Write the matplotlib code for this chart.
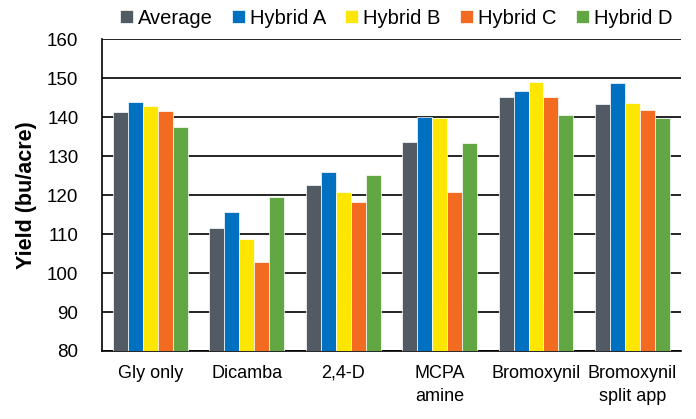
import numpy as np
import matplotlib
matplotlib.use("Agg")
import matplotlib.pyplot as plt

plt.rcParams['font.family'] = ['Liberation Sans', 'DejaVu Sans']

categories = ["Gly only", "Dicamba", "2,4-D", "MCPA\namine", "Bromoxynil", "Bromoxynil\nsplit app"]
series_names = ["Average", "Hybrid A", "Hybrid B", "Hybrid C", "Hybrid D"]
average = [141.4, 111.6, 122.5, 133.6, 145.3, 143.4]
hybrid_a = [144.0, 115.8, 125.9, 140.1, 146.7, 148.9]
hybrid_b = [142.9, 108.7, 120.7, 139.7, 149.0, 143.6]
hybrid_c = [141.7, 102.9, 118.2, 120.8, 145.1, 141.8]
hybrid_d = [137.6, 119.5, 125.3, 133.5, 140.6, 139.8]
colors = ["#525b63", "#0070c0", "#ffe600", "#f26b21", "#62a744"]

fig = plt.figure(figsize=(6.96, 4.19), dpi=100)
ax = fig.add_axes([0.1466, 0.1623, 0.8314, 0.7437])

x = np.arange(len(categories))
w = 0.155
all_series = [average, hybrid_a, hybrid_b, hybrid_c, hybrid_d]
for i, (name, vals) in enumerate(zip(series_names, all_series)):
    ax.bar(x + (i - 2) * w, np.array(vals) - 80, width=w, bottom=80,
           color=colors[i], edgecolor="white", linewidth=0.5, label=name, zorder=3)

ax.set_xlim(-0.5, len(categories) - 0.5)
ax.set_ylim(80, 160)
ax.set_yticks(range(80, 161, 10))
ax.yaxis.grid(True, color="black", linewidth=1.2, zorder=0)
ax.set_axisbelow(True)
for s in ["top", "right"]:
    ax.spines[s].set_visible(False)
ax.spines["left"].set_linewidth(1.2)
ax.spines["bottom"].set_linewidth(1.2)
ax.tick_params(axis="both", length=0)
ax.tick_params(axis="x", pad=10, labelsize=13)
ax.tick_params(axis="y", pad=17, labelsize=13.5)
ax.set_xticks(x)
ax.set_xticklabels(categories, linespacing=1.45)
ax.set_ylabel("Yield (bu/acre)", fontsize=15.5, fontweight="bold", labelpad=7)

ax.legend(loc="lower center", bbox_to_anchor=(0.508, 1.012), ncol=5, frameon=False,
          fontsize=14.5, handlelength=0.65, handleheight=0.65, handletextpad=0.25,
          columnspacing=0.95, borderaxespad=0)

fig.savefig("out.png", dpi=100)
